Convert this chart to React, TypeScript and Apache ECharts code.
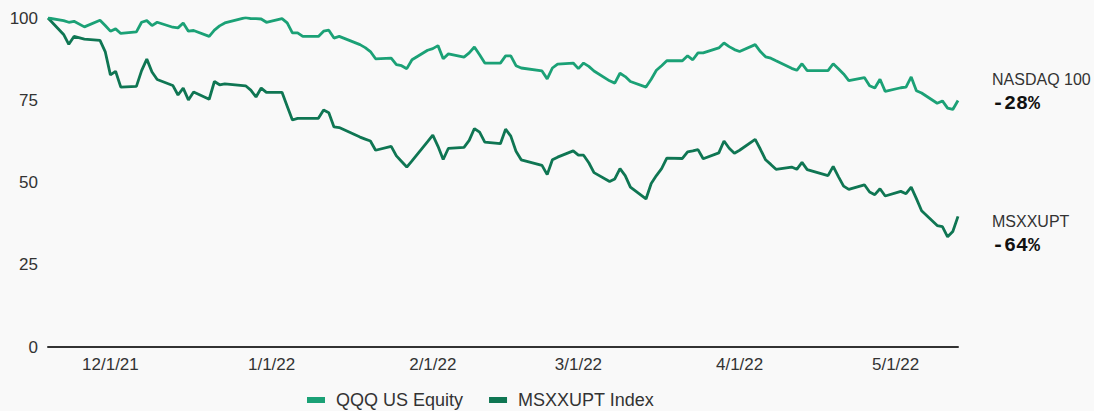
import React, { useEffect, useRef } from "react";
import * as echarts from "echarts";

const dates: string[] = [
  "2021-11-19","2021-11-22","2021-11-23","2021-11-24","2021-11-26","2021-11-29","2021-11-30",
  "2021-12-01","2021-12-02","2021-12-03","2021-12-06","2021-12-07","2021-12-08","2021-12-09","2021-12-10",
  "2021-12-13","2021-12-14","2021-12-15","2021-12-16","2021-12-17","2021-12-20","2021-12-21","2021-12-22",
  "2021-12-23","2021-12-27","2021-12-28","2021-12-29","2021-12-30","2021-12-31",
  "2022-01-03","2022-01-04","2022-01-05","2022-01-06","2022-01-07","2022-01-10","2022-01-11","2022-01-12",
  "2022-01-13","2022-01-14","2022-01-18","2022-01-19","2022-01-20","2022-01-21","2022-01-24","2022-01-25",
  "2022-01-26","2022-01-27","2022-01-28","2022-01-31",
  "2022-02-01","2022-02-02","2022-02-03","2022-02-04","2022-02-07","2022-02-08","2022-02-09","2022-02-10",
  "2022-02-11","2022-02-14","2022-02-15","2022-02-16","2022-02-17","2022-02-18","2022-02-22","2022-02-23",
  "2022-02-24","2022-02-25","2022-02-28",
  "2022-03-01","2022-03-02","2022-03-03","2022-03-04","2022-03-07","2022-03-08","2022-03-09","2022-03-10",
  "2022-03-11","2022-03-14","2022-03-15","2022-03-16","2022-03-17","2022-03-18","2022-03-21","2022-03-22",
  "2022-03-23","2022-03-24","2022-03-25","2022-03-28","2022-03-29","2022-03-30","2022-03-31",
  "2022-04-01","2022-04-04","2022-04-05","2022-04-06","2022-04-07","2022-04-08","2022-04-11","2022-04-12",
  "2022-04-13","2022-04-14","2022-04-18","2022-04-19","2022-04-20","2022-04-21","2022-04-22","2022-04-25",
  "2022-04-26","2022-04-27","2022-04-28","2022-04-29",
  "2022-05-02","2022-05-03","2022-05-04","2022-05-05","2022-05-06","2022-05-09","2022-05-10","2022-05-11",
  "2022-05-12","2022-05-13",
];

const qqqValues: number[] = [
  100, 99.2, 98.7, 99.0, 97.3, 99.3, 97.7,
  96.0, 96.7, 95.3, 95.8, 98.7, 99.2, 97.7, 98.7, 97.2, 97.0, 98.5, 96.0, 96.2, 94.4, 96.3, 97.6, 98.5,
  100.1, 99.8, 99.8, 99.7, 98.7,
  99.8, 98.5, 95.5, 95.5, 94.4, 94.4, 96.0, 96.3, 93.9, 94.4, 91.9, 91.0, 89.8, 87.6, 87.8, 85.8, 85.5,
  84.6, 87.3, 90.2,
  90.7, 91.6, 87.6, 89.1, 88.1, 89.4, 91.2, 88.8, 86.3, 86.3, 88.5, 88.5, 85.5, 84.8, 83.9, 81.5, 84.8,
  86.0, 86.3,
  84.6, 86.3, 85.3, 83.9, 80.9, 80.2, 83.2, 82.2, 80.7, 79.0, 81.4, 84.1, 85.5, 87.0, 87.0, 88.5, 87.3,
  89.4, 89.4, 90.9, 92.4, 91.3, 90.4,
  89.8, 91.9, 89.8, 88.2, 87.8, 87.0, 84.7, 84.1, 86.1, 84.0, 84.0, 86.1, 84.6, 83.0, 81.0, 81.9, 79.4,
  78.7, 81.4, 77.7,
  78.8, 79.0, 82.1, 77.9, 77.2, 74.1, 74.8, 72.6, 72.2, 74.9,
];

const msxxValues: number[] = [
  100, 95.0, 92.0, 94.4, 93.6, 93.2, 89.8,
  82.7, 83.8, 79.0, 79.2, 84.0, 87.5, 83.6, 81.3, 79.5, 76.6, 78.7, 75.1, 77.5, 75.3, 80.7, 79.7, 80.0,
  79.4, 78.1, 76.0, 78.7, 77.4,
  77.4, 73.2, 69.0, 69.5, 69.5, 69.5, 72.0, 71.2, 66.9, 66.7, 63.8, 63.2, 62.6, 59.8, 61.0, 58.1, 56.4,
  54.7, 56.6, 62.4,
  64.4, 61.0, 57.0, 60.4, 60.7, 62.8, 66.4, 65.3, 62.3, 61.8, 66.2, 64.1, 59.5, 56.9, 55.2, 52.4, 56.9,
  57.7, 59.6,
  58.3, 58.3, 56.0, 53.0, 50.3, 51.1, 54.2, 52.1, 48.6, 45.0, 49.7, 52.1, 54.2, 57.4, 57.3, 59.3, 59.6,
  60.0, 57.2, 59.0, 62.6, 60.4, 58.9,
  59.8, 63.1, 60.1, 56.9, 55.5, 54.0, 54.7, 54.0, 56.1, 53.9, 52.1, 54.9, 51.8, 48.9, 47.9, 49.3, 47.1,
  46.3, 48.1, 45.9,
  47.3, 46.6, 48.6, 45.1, 41.4, 36.9, 36.6, 33.5, 35.1, 39.7,
];

const seriesNames: string[] = ["QQQ US Equity", "MSXXUPT Index"];
const endNames: string[] = ["NASDAQ 100", "MSXXUPT"];
const endChanges: string[] = ["-28%", "-64%"];
const xTickDates: string[] = ["2021-12-01", "2022-01-01", "2022-02-01", "2022-03-01", "2022-04-01", "2022-05-01"];
const yTicks: number[] = [0, 25, 50, 75, 100];

const COLORS = ["#1ba176", "#0f7653"];

const toTs = (s: string) => {
  const [y, m, d] = s.split("-").map(Number);
  return Date.UTC(y, m - 1, d);
};

export default function App() {
  const ref = useRef<HTMLDivElement>(null);

  useEffect(() => {
    document.body.style.margin = "0";
    document.body.style.background = "#f9f9f9";
    if (!ref.current) return;
    const chart = echarts.init(ref.current, null, { renderer: "svg" });
    const font = "'Liberation Sans', Arial, sans-serif";
    const mono = "'Liberation Mono', 'DejaVu Sans Mono', monospace";
    const mk = (vals: number[]) => vals.map((v, i) => [toTs(dates[i]), v]);

    chart.setOption({
      animation: false,
      backgroundColor: "#f9f9f9",
      grid: { left: 48, right: 136, top: 18, bottom: 64 },
      xAxis: {
        type: "value",
        min: toTs(dates[0]),
        max: toTs(dates[dates.length - 1]),
        axisLine: { show: true, lineStyle: { color: "#333", width: 2 } },
        axisTick: { show: false },
        splitLine: { show: false },
        axisLabel: {
          customValues: xTickDates.map(toTs),
          color: "#333",
          fontSize: 17,
          fontFamily: font,
          margin: 9,
          showMinLabel: true,
          showMaxLabel: true,
          hideOverlap: false,
          formatter: (v: number) => {
            const d = new Date(v);
            return `${d.getUTCMonth() + 1}/${d.getUTCDate()}/${String(d.getUTCFullYear()).slice(2)}`;
          },
        },
      },
      yAxis: {
        type: "value",
        min: yTicks[0],
        max: yTicks[yTicks.length - 1],
        interval: 25,
        axisLine: { show: false },
        axisTick: { show: false },
        splitLine: { show: false },
        axisLabel: { color: "#333", fontSize: 17, fontFamily: font, margin: 10 },
      },
      legend: {
        left: 302,
        top: 386,
        icon: "rect",
        itemWidth: 18,
        itemHeight: 6,
        itemGap: 26,
        textStyle: { color: "#333", fontSize: 18, fontFamily: font, padding: [0, 0, 0, 6] },
        data: seriesNames,
      },
      graphic: [
        { type: "text", left: 992, top: 71, style: { text: endNames[0], fill: "#333", font: `16px ${font}` } },
        { type: "text", left: 992, top: 93, style: { text: endChanges[0], fill: "#111", font: `bold 20px ${mono}` } },
        { type: "text", left: 992, top: 213, style: { text: endNames[1], fill: "#333", font: `16px ${font}` } },
        { type: "text", left: 992, top: 235, style: { text: endChanges[1], fill: "#111", font: `bold 20px ${mono}` } },
      ],
      series: [
        {
          name: seriesNames[0],
          type: "line",
          data: mk(qqqValues),
          showSymbol: false,
          symbol: "none",
          lineStyle: { color: COLORS[0], width: 2.8 },
          itemStyle: { color: COLORS[0] },
          z: 3,
        },
        {
          name: seriesNames[1],
          type: "line",
          data: mk(msxxValues),
          showSymbol: false,
          symbol: "none",
          lineStyle: { color: COLORS[1], width: 2.8 },
          itemStyle: { color: COLORS[1] },
          z: 2,
        },
      ],
    });
    return () => chart.dispose();
  }, []);

  return <div ref={ref} style={{ width: 1094, height: 411, background: "#f9f9f9" }} />;
}
